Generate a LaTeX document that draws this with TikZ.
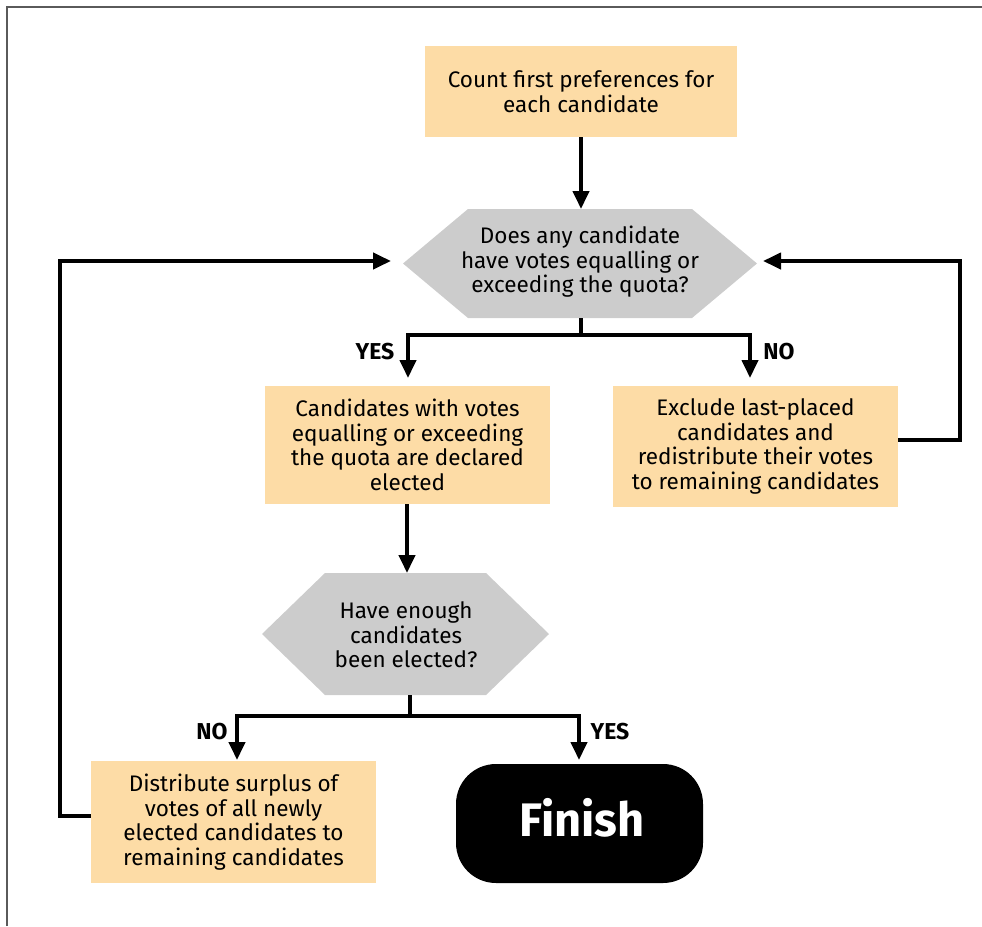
\documentclass[tikz,border=0pt]{standalone}
\usepackage{fontspec}
\setmainfont{Fira Sans}
\usetikzlibrary{arrows.meta}
\definecolor{boxfill}{HTML}{FDDCA6}
\definecolor{hexfill}{HTML}{CCCCCC}
\definecolor{framegray}{HTML}{5A5A5A}
\tikzset{
  procbox/.style={fill=boxfill, draw=none, minimum width=285pt, align=center, font=\fontsize{22.5}{24.6}\selectfont, inner sep=0pt},
  hextext/.style={align=center, font=\fontsize{22.5}{24.6}\selectfont, inner sep=0pt},
  conn/.style={line width=4pt, draw=black},
  arr/.style={conn, -{Triangle[width=16pt,length=18pt]}},
  lbl/.style={font=\bfseries\fontsize{23}{26}\selectfont, inner sep=0pt},
}
\begin{document}
\begin{tikzpicture}[x=1pt,y=-1pt]
\useasboundingbox (0,0) rectangle (982,926);
% frame
\draw[framegray, line width=2pt] (7,926) -- (7,6.5) -- (982,6.5);

% boxes
\node[procbox, minimum width=312pt, minimum height=91pt] (b1) at (581,91.5) {Count first preferences for\\each candidate};

% hexagon 1
\fill[hexfill] (403,263.5) -- (468,209) -- (692,209) -- (757,263.5) -- (692,318) -- (468,318) -- cycle;
\node[hextext] (q1) at (580,262) {Does any candidate\\have votes equalling or\\exceeding the quota?};
\coordinate (q1t) at (581,209);
\coordinate (q1b) at (581,318);

\node[procbox, minimum height=118pt] (b2) at (407.5,445) {Candidates with votes\\equalling or exceeding\\the quota are declared\\elected};
\node[procbox, minimum height=121pt] (b3) at (755.5,446.5) {Exclude last-placed\\candidates and\\redistribute their votes\\to remaining candidates};

% hexagon 2
\fill[hexfill] (262,634) -- (325,573) -- (486,573) -- (549,634) -- (486,695) -- (325,695) -- cycle;
\node[hextext] (q2) at (406,635) {Have enough\\candidates\\been elected?};
\coordinate (q2t) at (407,573);
\coordinate (q2b) at (410,695);

\node[procbox, minimum height=122pt] (b4) at (233.5,822) {Distribute surplus of\\votes of all newly\\elected candidates to\\remaining candidates};
\node[fill=black, rounded corners=40pt, minimum width=247pt, minimum height=119pt, inner sep=0pt] (fin) at (579.5,823.5) {};
\node[text=white, font=\bfseries\fontsize{47}{50}\selectfont, inner sep=0pt] (fintext) at (582,817.5) {Finish};

% connectors
\draw[arr] (b1.south) -- (q1t);
\coordinate (j1) at (581,335);
\coordinate (e2) at (408,378);
\coordinate (e3) at (750,378);
\draw[conn] (q1b) -- (j1);
\draw[arr] (j1) -| (e2);
\draw[arr] (j1) -| (e3);
\node[lbl] (yes1) at (375,352) {YES};
\node[lbl] (no1) at (779,352) {NO};

\coordinate (b2b) at (407,504);
\draw[arr] (b2b) -- (q2t);

\coordinate (j2) at (410,716);
\coordinate (e4) at (237,760);
\coordinate (e5) at (579,760);
\draw[conn] (q2b) -- (j2);
\draw[arr] (j2) -| (e4);
\draw[arr] (j2) -| (e5);
\node[lbl] (no2) at (212,732) {NO};
\node[lbl] (yes2) at (610,732) {YES};

% feedback loops
\coordinate (r1) at (960,440);
\coordinate (r2) at (960,261);
\coordinate (rt) at (763,261);
\draw[arr] (b3.east |- r1) -- (r1) -- (r2) -- (rt);
\coordinate (l1) at (60,816);
\coordinate (l2) at (60,261);
\coordinate (lt) at (391,261);
\draw[arr] (b4.west |- l1) -- (l1) -- (l2) -- (lt);
\end{tikzpicture}
\end{document}
